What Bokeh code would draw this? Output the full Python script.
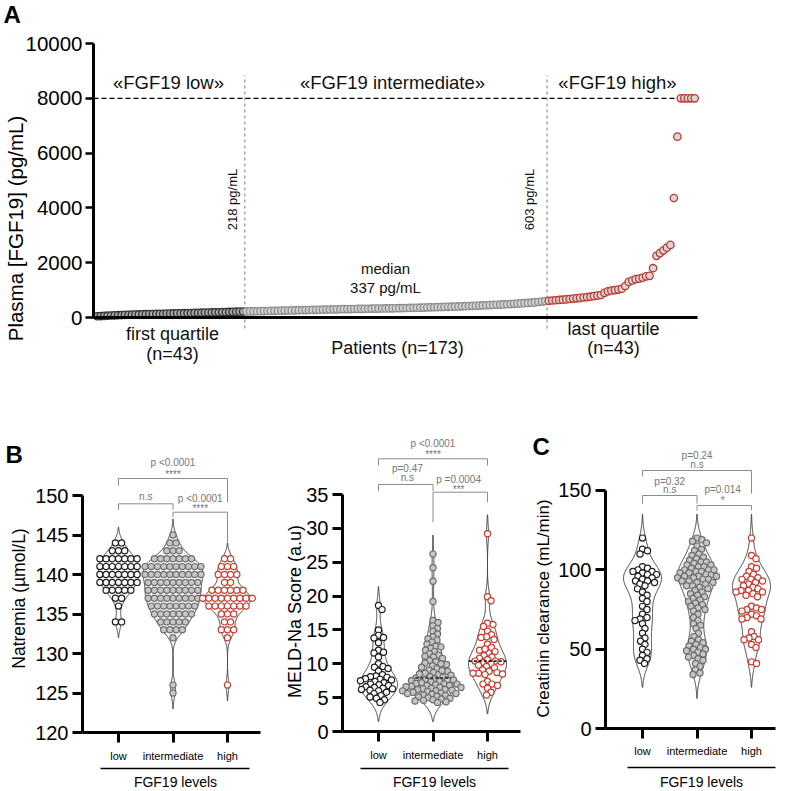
import numpy as np
from math import pi
from bokeh.plotting import figure
from bokeh.models import Range1d, FixedTicker
from bokeh.layouts import column, row
from bokeh.embed import file_html
from bokeh.resources import INLINE
from bokeh.core.properties import value

FONT = "Liberation Sans"

# ---------------- data: panel A (sorted plasma FGF19, pg/mL) ----------------
fgf19_low = [45, 52, 60, 66, 72, 78, 84, 90, 95, 100, 104, 108, 112, 116, 120, 124, 128, 131, 134, 137,
             140, 144, 148, 151, 154, 158, 161, 164, 168, 171, 175, 178, 181, 184, 188, 191, 195, 199, 203, 207,
             211, 214, 218]
fgf19_intermediate = [220, 223, 226, 229, 232, 235, 238, 241, 244, 247, 250, 253, 256, 259, 262, 265, 268, 271, 274, 277,
                      280, 283, 286, 289, 292, 295, 298, 301, 304, 307, 309, 311, 313, 316, 318, 320, 322, 324, 326, 328,
                      330, 332, 334, 337, 340, 343, 346, 349, 352, 355, 358, 362, 366, 370, 374, 378, 382, 386, 390, 394,
                      398, 403, 408, 413, 418, 423, 428, 434, 440, 446, 452, 458, 464, 470, 477, 484, 491, 498, 506, 514,
                      522, 531, 540, 552, 565, 580, 598]
fgf19_high = [610, 620, 630, 640, 650, 660, 675, 690, 700, 715, 730, 745, 760, 780, 800, 820,
              900, 950, 980, 1000, 1020, 1050, 1150, 1300, 1350, 1400, 1420, 1450, 1500, 1520,
              1800, 2250, 2350, 2450, 2550, 2650, 4360, 6600, 8000, 8000, 8000, 8000, 8000]
fgf19_cut_low = 218
fgf19_cut_high = 603
fgf19_median = 337
fgf19_cap = 8000
fgf19_ticks = [0, 2000, 4000, 6000, 8000, 10000]
zone_labels = ["\u00abFGF19 low\u00bb", "\u00abFGF19 intermediate\u00bb", "\u00abFGF19 high\u00bb"]

# ---------------- data: panels B / C ----------------
groups = ["low", "intermediate", "high"]

natremia_low = [144, 144, 143, 143, 143, 142, 142, 142, 142, 142, 142, 142, 141, 141, 141, 141, 141, 141, 141,
                140, 140, 140, 140, 140, 140, 140, 139, 139, 139, 139, 139, 139, 139, 138, 138, 138, 138, 138,
                137, 137, 136, 134, 134]
natremia_intermediate = [145, 144, 144, 143, 143, 143, 142, 142, 142, 142, 142, 142, 142,
                         141, 141, 141, 141, 141, 141, 141, 141, 141, 141,
                         140, 140, 140, 140, 140, 140, 140, 140, 140, 140,
                         139, 139, 139, 139, 139, 139, 139, 139, 139,
                         138, 138, 138, 138, 138, 138, 138, 138, 138,
                         137, 137, 137, 137, 137, 137, 137, 137, 137,
                         136, 136, 136, 136, 136, 136, 136, 136,
                         135, 135, 135, 135, 135, 135, 135,
                         134, 134, 134, 134, 134, 133, 133, 133, 133, 132, 126, 125]
natremia_high = [142, 142, 141, 141, 141, 140, 140, 140, 140, 139, 139, 138, 138, 138, 138, 138, 138,
                 137, 137, 137, 137, 137, 137, 137, 137, 137, 136, 136, 136, 136, 136, 136, 136,
                 135, 135, 135, 134, 134, 133, 133, 133, 132, 126]
natremia_ticks = [120, 125, 130, 135, 140, 145, 150]
natremia_p = ["p <0.0001", "", "p <0.0001"]
natremia_stars = ["****", "n.s", "****"]

meld_low = [18.6, 18.0, 15.0, 14.2, 13.9, 13.8, 13.1, 12.0, 11.7, 11.6, 11.0, 10.0, 9.6, 9.5, 9.3,
            8.9, 8.4, 8.2, 8.1, 8.0, 7.8, 7.7, 7.6, 7.5, 7.4, 7.2, 7.0, 6.9, 6.8, 6.6, 6.5, 6.4, 6.3,
            6.2, 6.1, 6.0, 5.8, 5.6, 5.3, 5.1, 4.9, 4.7, 4.3]
meld_intermediate = [26.2, 24.2, 22.2, 19.2, 16.4, 16.1, 15.6, 15.2, 14.8, 14.4, 14.0, 13.7, 13.5, 13.2, 12.9,
                     12.6, 12.3, 12.0, 11.8, 11.5, 11.3, 11.0, 10.8, 10.5, 10.3, 10.1, 9.9, 9.7, 9.5, 9.3,
                     9.1, 8.9, 8.7, 8.6, 8.4, 8.3, 8.1, 8.0, 7.9, 7.8, 7.7, 7.6, 7.6, 7.5, 7.4, 7.3, 7.2,
                     7.1, 7.0, 7.0, 6.9, 6.8, 6.8, 6.7, 6.6, 6.5, 6.5, 6.4, 6.3, 6.2, 6.2, 6.1, 6.0, 6.0,
                     5.9, 5.8, 5.7, 5.6, 5.6, 5.5, 5.4, 5.3, 5.2, 5.1, 5.0, 4.9, 4.8, 4.7, 4.6, 4.5, 4.4,
                     4.3, 8.5, 9.0, 10.0, 11.1, 12.5]
meld_high = [29.2, 19.9, 19.3, 16.0, 15.8, 15.5, 14.8, 14.3, 14.0, 13.9, 13.6, 12.9, 12.4, 12.0, 11.8,
             11.6, 11.2, 11.0, 10.8, 10.6, 10.4, 10.4, 10.3, 10.2, 10.0, 9.8, 9.6, 9.4, 9.1, 8.9, 8.7,
             8.6, 8.6, 8.5, 8.4, 7.4, 7.0, 7.0, 6.8, 6.4, 5.8, 5.4, 12.2]
meld_ticks = [0, 5, 10, 15, 20, 25, 30, 35]
meld_p = ["p <0.0001", "p=0.47", "p =0.0004"]
meld_stars = ["****", "n.s", "***"]

clearance_low = [120, 113, 112, 110, 102, 101, 100, 99, 99, 98, 97, 97, 96, 95, 94, 93, 93, 92, 91, 90,
                 88, 86, 84, 82, 80, 77, 75, 72, 70, 69, 68, 66, 63, 60, 57, 55, 53, 50, 48, 46, 44, 43, 41]
clearance_intermediate = [120, 119, 118, 117, 115, 113, 112, 110, 109, 108, 107, 106, 105, 105, 104, 103, 103,
                          102, 102, 101, 100, 100, 99, 99, 98, 98, 97, 97, 96, 96, 95, 95, 94, 94, 93, 93,
                          92, 91, 90, 90, 89, 88, 87, 86, 85, 84, 83, 82, 81, 80, 79, 78, 77, 76, 75, 74,
                          72, 70, 68, 66, 65, 63, 60, 58, 56, 55, 54, 53, 52, 51, 50, 50, 49, 48, 47, 46,
                          45, 44, 43, 41, 39, 37, 35, 34, 100, 96, 92]
clearance_high = [120, 109, 107, 102, 101, 99, 97, 96, 95, 94, 94, 93, 92, 91, 90, 89, 88, 87, 87, 86, 86,
                  85, 84, 83, 77, 76, 75, 75, 74, 72, 71, 70, 69, 69, 61, 58, 57, 56, 56, 53, 51, 42, 41]
clearance_ticks = [0, 50, 100, 150]
clearance_p = ["p=0.24", "p=0.32", "p=0.014"]
clearance_stars = ["n.s", "n.s", "*"]


# ---------------- helpers ----------------
class PixelMap:
    """Maps page pixel positions to data coordinates of one figure (frame = whole figure)."""

    def __init__(self, ox, oy, w, h, xpx, xval, xs, ypx, yval, ys):
        self.ox, self.oy, self.w, self.h = ox, oy, w, h
        self.xpx, self.xval, self.xs = xpx, xval, xs
        self.ypx, self.yval, self.ys = ypx, yval, ys

    def x(self, px):
        return self.xval + (px - self.xpx) / self.xs

    def y(self, py):
        return self.yval + (self.ypx - py) / self.ys

    def fig(self):
        p = figure(width=self.w, height=self.h,
                   x_range=Range1d(self.x(self.ox), self.x(self.ox + self.w)),
                   y_range=Range1d(self.y(self.oy + self.h), self.y(self.oy)),
                   output_backend="svg", toolbar_location=None, min_border=0)
        p.outline_line_color = None
        p.grid.visible = False
        p.background_fill_color = "white"
        p.border_fill_color = "white"
        return p


def style_axis(ax, size, tick_out):
    ax.axis_line_width = 3
    ax.axis_line_color = "black"
    ax.major_tick_line_width = 3
    ax.major_tick_line_color = "black"
    ax.major_tick_out = tick_out
    ax.major_tick_in = 0
    ax.minor_tick_line_color = None
    ax.minor_tick_out = 0
    ax.major_label_text_font = FONT
    ax.major_label_text_font_size = size
    ax.major_label_text_color = "black"


def text(p, xs, ys, texts, size, color="#111111", angle=0.0, align="center", baseline="middle", style="normal"):
    p.text(x=list(xs), y=list(ys), text=list(texts), angle=angle, text_font=value(FONT),
           text_font_size=size, text_color=color, text_align=align, text_baseline=baseline,
           text_font_style=style)


XPX = 54.5  # screen px per category step in panels B/C
DOT_LINE = ["#1e1e1e", "#6e6e6e", "#c8392e"]
DOT_FILL = ["white", "#c6c6c6", "white"]


def kde_outline(vals, bw, ext, half_px):
    v = np.asarray(vals, float)
    g = np.linspace(v.min() - ext, v.max() + ext, 300)
    d = np.exp(-0.5 * ((g[:, None] - v[None, :]) / bw) ** 2).sum(axis=1)
    return g, d / d.max() * half_px / XPX


def row_swarm(vals, gap):
    v = np.asarray(vals, float)
    out = np.zeros(len(v))
    for u in np.unique(v):
        idx = np.where(v == u)[0]
        k = len(idx)
        out[idx] = (np.arange(k) - (k - 1) / 2) * gap / XPX
    return out


def swarm(vals, px_unit, diam):
    v = np.asarray(vals, float)
    ys = v * px_unit
    order = np.argsort(-v, kind="stable")
    cands = [0.0]
    for k in range(1, 160):
        cands += [k * 0.5, -k * 0.5]
    px, py = [], []
    out = np.zeros(len(v))
    for i in order:
        y = ys[i]
        for c in cands:
            if all((c - a) ** 2 + (y - b) ** 2 >= diam * diam - 1e-6 for a, b in zip(px, py)):
                break
        px.append(c)
        py.append(y)
        out[i] = c
    return out / XPX


def violin_panel(m, letter, letter_px, ylabel, ylabel_px, ylabel_size, data, p_texts, stars, yticks,
                 axis_px, label_standoff, bw, ext, half_px, brackets_px, texts_px, under_px, fgf_px,
                 rows=False, diam=6.2, medians=()):
    p = m.fig()
    x_axis_pos = m.x(axis_px[0])
    x_axis_end = m.x(axis_px[1])

    ya = p.yaxis[0]
    ya.fixed_location = x_axis_pos
    ya.ticker = FixedTicker(ticks=yticks)
    ya.bounds = (yticks[0], yticks[-1])
    style_axis(ya, "20px", 10)
    ya.major_label_standoff = 4

    xa = p.xaxis[0]
    xa.fixed_location = yticks[0]
    xa.ticker = FixedTicker(ticks=[1, 2, 3])
    xa.bounds = (x_axis_pos, x_axis_end)
    xa.major_label_overrides = {i + 1: g for i, g in enumerate(groups)}
    style_axis(xa, "11px", 10)
    xa.major_label_standoff = label_standoff

    # violins
    for gi, vals in enumerate(data):
        c = gi + 1
        g, w = kde_outline(vals, bw, ext, half_px[gi])
        p.patch(np.concatenate([c - w, (c + w)[::-1]]), np.concatenate([g, g[::-1]]),
                fill_color=None, line_color="#3c3c3c", line_width=1)
    # points
    for gi, vals in enumerate(data):
        c = gi + 1
        off = row_swarm(vals, 6.2) if rows else swarm(vals, m.ys, diam)
        p.scatter(c + off, vals, marker="circle", size=6.2, line_color=DOT_LINE[gi],
                  fill_color=DOT_FILL[gi], line_width=1.2)
    # medians
    for gi in medians:
        vals = data[gi]
        c = gi + 1
        g, w = kde_outline(vals, bw, ext, half_px[gi])
        med = float(np.median(vals))
        hw = float(np.interp(med, g, w))
        p.segment(x0=[c - hw], y0=[med], x1=[c + hw], y1=[med], line_color="#222222",
                  line_width=1.6, line_dash="3 2")

    # comparison brackets (x1, x2, line_py, leg1_py, leg2_py)
    p.multi_line(xs=[[b[0], b[0], b[1], b[1]] for b in brackets_px],
                 ys=[[m.y(b[3]), m.y(b[2]), m.y(b[2]), m.y(b[4])] for b in brackets_px],
                 line_color="#8c8c8c", line_width=1)
    tx, ty, tt = [], [], []
    for (x, py1, py2), pt, st in zip(texts_px, p_texts, stars):
        if pt:
            tx.append(x); ty.append(m.y(py1)); tt.append(pt)
        tx.append(x); ty.append(m.y(py2)); tt.append(st)
    text(p, tx, ty, tt, "10px", color="#767676")

    # underline + group title
    p.segment(x0=[m.x(under_px[0])], y0=[m.y(under_px[2])], x1=[m.x(under_px[1])], y1=[m.y(under_px[2])],
              line_color="black", line_width=1.3)
    text(p, [m.x(fgf_px[0])], [m.y(fgf_px[1])], ["FGF19 levels"], "14px", color="black")

    # y label and panel letter
    text(p, [m.x(ylabel_px[0])], [m.y(ylabel_px[1])], [ylabel], ylabel_size, color="black", angle=pi / 2)
    if letter:
        text(p, [m.x(letter_px[0])], [m.y(letter_px[1])], [letter], "24px", color="black",
             align="left", baseline="top", style="bold")
    return p


# ---------------- panel A ----------------
n_low, n_int, n_high = len(fgf19_low), len(fgf19_intermediate), len(fgf19_high)
n_all = n_low + n_int + n_high
idx_low = np.arange(1, n_low + 1)
idx_int = np.arange(n_low + 1, n_low + n_int + 1)
idx_high = np.arange(n_low + n_int + 1, n_all + 1)
b1 = n_low + 0.5
b2 = n_low + n_int + 0.5

ma = PixelMap(0, 0, 785, 380, 96.7, 1, 3.474, 317, 0, 0.0274)
pa = ma.fig()
ya = pa.yaxis[0]
ya.fixed_location = ma.x(93)
ya.ticker = FixedTicker(ticks=fgf19_ticks)
ya.bounds = (fgf19_ticks[0], fgf19_ticks[-1])
style_axis(ya, "20.5px", 8)
ya.major_tick_line_width = 2.5
ya.major_label_standoff = 3
xa = pa.xaxis[0]
xa.fixed_location = 0
xa.ticker = FixedTicker(ticks=[])
xa.bounds = (ma.x(93), ma.x(697))
style_axis(xa, "0px", 0)
xa.major_tick_line_color = None

pa.segment(x0=[ma.x(93)], y0=[fgf19_cap], x1=[ma.x(690)], y1=[fgf19_cap], line_color="black",
           line_width=1.3, line_dash="5 3")
pa.segment(x0=[b1, b2], y0=[ma.y(328)] * 2, x1=[b1, b2], y1=[ma.y(75)] * 2, line_color="#7a7a7a",
           line_width=1, line_dash="3 3")

pa.scatter(idx_low, fgf19_low, marker="circle", size=7.4, line_color="#333333", fill_color="#a8a8a8",
           line_width=1.3)
pa.scatter(idx_int, fgf19_intermediate, marker="circle", size=7.4, line_color="#8c8c8c",
           fill_color="#d2d2d2", line_width=1.3)
pa.scatter(idx_high, fgf19_high, marker="circle", size=7.4, line_color="#c0392b", fill_color="#d6d6dc",
           line_width=1.3)

text(pa, [ma.x(168), ma.x(392), ma.x(617)], [ma.y(82)] * 3, zone_labels, "18.5px")
text(pa, [ma.x(232), ma.x(529)], [ma.y(199)] * 2, [f"{fgf19_cut_low} pg/mL", f"{fgf19_cut_high} pg/mL"],
     "13px", angle=pi / 2)
text(pa, [ma.x(385), ma.x(385)], [ma.y(268), ma.y(287)], ["median", f"{fgf19_median} pg/mL"], "15px")
text(pa, [ma.x(172), ma.x(172), ma.x(613), ma.x(613), ma.x(397)],
     [ma.y(333), ma.y(353), ma.y(328), ma.y(347), ma.y(347)],
     ["first quartile", f"(n={n_low})", "last quartile", f"(n={n_high})", f"Patients (n={n_all})"], "18px")
text(pa, [ma.x(3)], [ma.y(0)], ["A"], "24px", color="black", align="left", baseline="top", style="bold")
text(pa, [ma.x(15)], [ma.y(228)], ["Plasma [FGF19] (pg/mL)"], "20.5px", color="black", angle=pi / 2)

# ---------------- panels B / C ----------------
m1 = PixelMap(0, 380, 262, 409, 118, 1, XPX, 495, 150, 7.9)
pb1 = violin_panel(
    m1, "B", (5, 440), "Natremia (\u00b5mol/L)", (18.5, 598), "17.5px",
    [natremia_low, natremia_intermediate, natremia_high], natremia_p, natremia_stars, natremia_ticks,
    axis_px=(82, 260), label_standoff=7, bw=0.85, ext=2.0, half_px=[20, 30, 23],
    brackets_px=[(1, 3, 478, 485, 502), (1, 2, 503.3, 509.3, 509.3), (2, 3, 511.7, 516.7, 541.7)],
    texts_px=[(2, 462, 473.5), (1.5, 496, 496), (2.5, 498.3, 508)],
    under_px=(100, 249, 768), fgf_px=(175, 781), rows=True)

m2 = PixelMap(262, 380, 260, 409, 378, 1, XPX, 731, 0, 6.771)
pb2 = violin_panel(
    m2, "", (0, 0), "MELD-Na Score (a.u)", (294, 611), "18px",
    [meld_low, meld_intermediate, meld_high], meld_p, meld_stars, meld_ticks,
    axis_px=(342, 520), label_standoff=7, bw=1.4, ext=2.8, half_px=[19, 20, 19],
    brackets_px=[(1, 3, 458.3, 465, 465), (1, 2, 484, 490.7, 490.7), (2, 3, 491.7, 521.7, 501.7)],
    texts_px=[(2, 442.7, 454.3), (1.53, 468.3, 477.3), (2.47, 479, 488.7)],
    under_px=(360, 508, 768), fgf_px=(434, 781), diam=5.2, medians=(1, 2))

m3 = PixelMap(522, 380, 263, 409, 642, 1, XPX, 728, 0, 1.5867)
pc = violin_panel(
    m3, "C", (532, 432), "Creatinin clearance (mL/min)", (543, 608), "17px",
    [clearance_low, clearance_intermediate, clearance_high], clearance_p, clearance_stars, clearance_ticks,
    axis_px=(605, 775), label_standoff=6, bw=7.0, ext=15.0, half_px=[19, 19, 19],
    brackets_px=[(1, 3, 470, 476, 493), (1, 2, 495, 503, 503), (2, 3, 505, 510, 510)],
    texts_px=[(2, 455, 464), (1.5, 480.7, 489.3), (2.47, 489.3, 500.3)],
    under_px=(627, 775, 767), fgf_px=(701, 781), diam=5.2)

layout = column(pa, row(pb1, pb2, pc))
open("out.html", "w").write(file_html(layout, INLINE))
